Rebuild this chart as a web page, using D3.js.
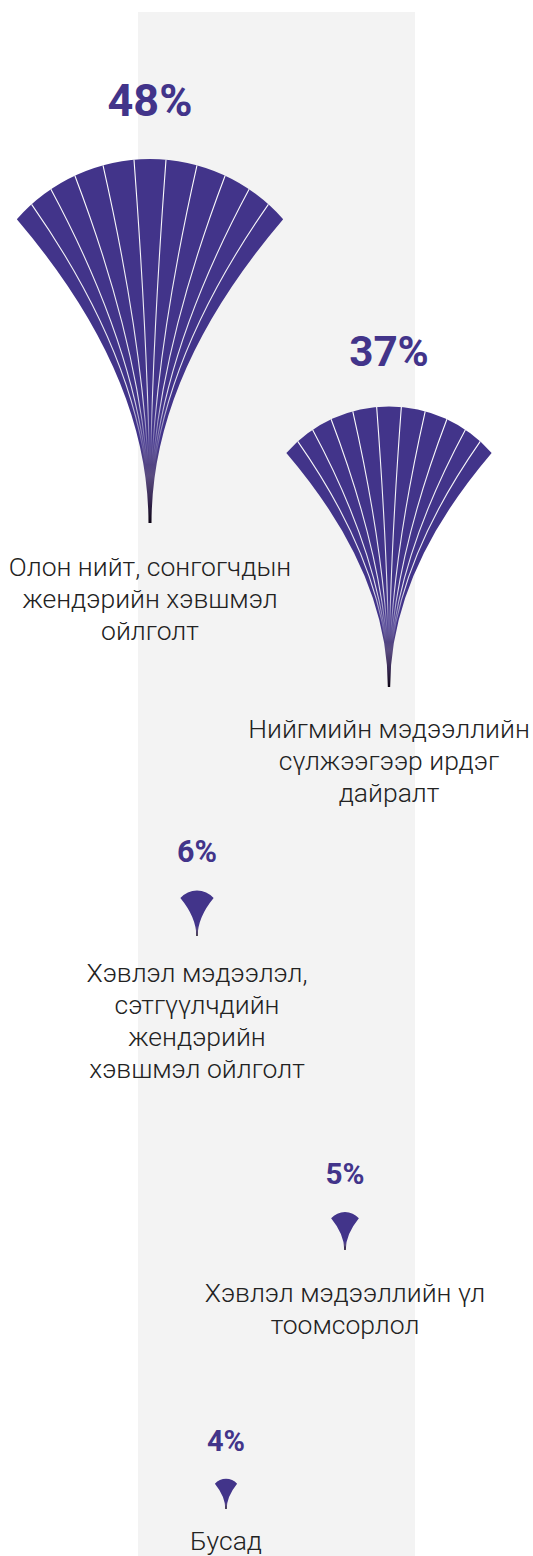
<!DOCTYPE html>
<html>
<head>
<meta charset="utf-8">
<script src="https://cdn.jsdelivr.net/npm/d3@7"></script>
<style>
  body { margin: 0; background: #fff; }
  svg { display: block; }
</style>
</head>
<body>
<div class="visuals"></div>
<script>
// data
const categories = [
  ["Олон нийт, сонгогчдын", "жендэрийн хэвшмэл", "ойлголт"],
  ["Нийгмийн мэдээллийн", "сүлжээгээр ирдэг", "дайралт"],
  ["Хэвлэл мэдээлэл,", "сэтгүүлчдийн", "жендэрийн", "хэвшмэл ойлголт"],
  ["Хэвлэл мэдээллийн үл", "тоомсорлол"],
  ["Бусад"]
];
const values = [48, 37, 6, 5, 4];

// where each fan sits (apex of the stem) and where its caption starts
const layout = [
  { x: 150, y: 523, ly: 576 },
  { x: 389, y: 687, ly: 738 },
  { x: 197, y: 936, ly: 982 },
  { x: 345, y: 1250, ly: 1302 },
  { x: 226, y: 1509, ly: 1550 }
];

const width = 533;
const height = 1556;
const purple = "#42348a";

const svg = d3.select(".visuals")
  .append("svg")
  .attr("width", width)
  .attr("height", height);

// grey band behind the middle
svg.append("rect")
  .attr("x", 138)
  .attr("y", 12)
  .attr("width", 277)
  .attr("height", height - 12)
  .attr("fill", "#f3f3f3");

const hScale = d3.scaleLinear().domain([0, 48]).range([0, 364]);   // fan height
const fontScale = d3.scaleSqrt().domain([4, 48]).range([29, 45]);  // % label size

const defs = svg.append("defs");
const petals = 11;
const halfA = 48.7 * Math.PI / 180;

function point(cx, ccy, R, a) {
  return [cx + R * Math.sin(a), ccy - R * Math.cos(a)];
}

// middle petals a bit wider than the outer ones
function ribAngle(k) {
  const u = -1 + 2 * k / petals;
  return halfA * (0.7 * u + 0.3 * Math.sin(u * Math.PI / 2));
}

values.forEach((v, i) => {
  const pos = layout[i];
  const H = hScale(v);
  const cx = pos.x, ay = pos.y;
  const top = ay - H;
  const R = 0.487 * H;
  const ccy = top + R;
  const ctrlY = ay - 0.41 * H;
  const bw = Math.max(0.7, H / 240);   // half width of the stem foot

  const grad = defs.append("linearGradient")
    .attr("id", "g" + i)
    .attr("gradientUnits", "userSpaceOnUse")
    .attr("x1", 0).attr("x2", 0)
    .attr("y1", top).attr("y2", ay);
  grad.append("stop").attr("offset", 0).attr("stop-color", purple);
  grad.append("stop").attr("offset", 0.78).attr("stop-color", purple);
  grad.append("stop").attr("offset", 0.87).attr("stop-color", "#5a4c80");
  grad.append("stop").attr("offset", 0.94).attr("stop-color", "#35264f");
  grad.append("stop").attr("offset", 1).attr("stop-color", "#0c0414");

  const lineGrad = defs.append("linearGradient")
    .attr("id", "lg" + i)
    .attr("gradientUnits", "userSpaceOnUse")
    .attr("x1", 0).attr("x2", 0)
    .attr("y1", top).attr("y2", ay);
  lineGrad.append("stop").attr("offset", 0).attr("stop-color", "#fff").attr("stop-opacity", 1);
  lineGrad.append("stop").attr("offset", 0.65).attr("stop-color", "#fff").attr("stop-opacity", 0.85);
  lineGrad.append("stop").attr("offset", 0.84).attr("stop-color", "#fff").attr("stop-opacity", 0);
  lineGrad.append("stop").attr("offset", 1).attr("stop-color", "#fff").attr("stop-opacity", 0);

  const g = svg.append("g").attr("class", "fan");

  const pl = point(cx, ccy, R, -halfA);
  const outline = d3.path();
  outline.moveTo(cx - bw, ay);
  outline.quadraticCurveTo(cx - bw, ctrlY, pl[0], pl[1]);
  outline.arc(cx, ccy, R, -Math.PI / 2 - halfA, -Math.PI / 2 + halfA);
  outline.quadraticCurveTo(cx + bw, ctrlY, cx + bw, ay);
  outline.closePath();

  g.append("path")
    .attr("d", outline.toString())
    .attr("fill", "url(#g" + i + ")");

  // white lines between the petals (too thin to see on the small fans)
  if (H > 100) {
    const angles = d3.range(1, petals).map(ribAngle);
    g.selectAll("path.rib")
      .data(angles)
      .enter()
      .append("path")
      .attr("class", "rib")
      .attr("d", a => {
        const p = point(cx, ccy, R, a);
        const pth = d3.path();
        pth.moveTo(cx, ay);
        pth.quadraticCurveTo(cx, ctrlY, p[0], p[1]);
        return pth.toString();
      })
      .attr("fill", "none")
      .attr("stroke", "url(#lg" + i + ")")
      .attr("stroke-width", 1.1);
  }

  // percent label
  const fs = fontScale(v);
  svg.append("text")
    .attr("x", cx)
    .attr("y", top - fs * 0.95)
    .attr("text-anchor", "middle")
    .attr("font-family", "Roboto, sans-serif")
    .attr("font-weight", 700)
    .attr("font-size", fs)
    .attr("fill", purple)
    .text(v + "%");

  // caption
  const cap = svg.append("text")
    .attr("text-anchor", "middle")
    .attr("font-family", "Roboto, sans-serif")
    .attr("font-weight", 300)
    .attr("font-size", 26.5)
    .attr("fill", "#222");
  cap.selectAll("tspan")
    .data(categories[i])
    .enter()
    .append("tspan")
    .attr("x", cx)
    .attr("y", (d, k) => pos.ly + k * 32)
    .text(d => d);
});
</script>
</body>
</html>
